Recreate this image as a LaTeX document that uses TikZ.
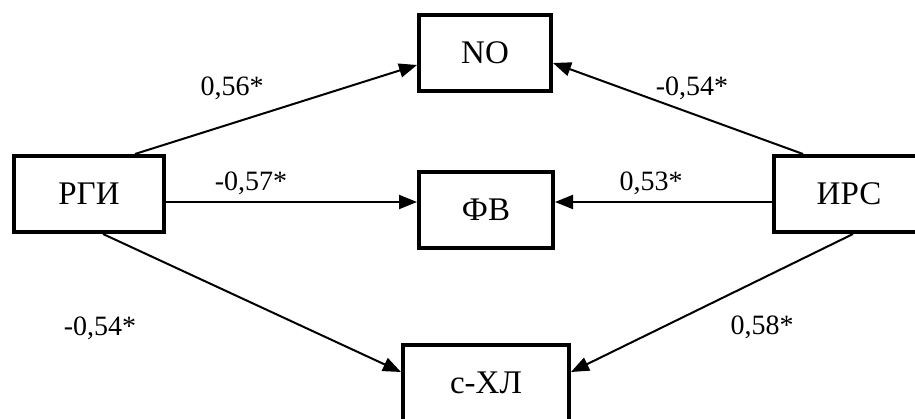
\documentclass[tikz,border=0pt]{standalone}
\usepackage{fontspec}
\setmainfont{Liberation Serif}
\usetikzlibrary{arrows.meta}
\begin{document}
\begin{tikzpicture}[x=1pt,y=1pt,
  box/.style={draw, line width=2pt, inner sep=0pt, minimum height=38pt, font=\fontsize{16.5}{19}\selectfont},
  arr/.style={line width=1pt, -{Triangle[length=9pt,width=7pt]}},
  lbl/.style={font=\fontsize{14}{17}\selectfont, inner sep=0pt}]
\fill[white] (0,0) rectangle (457.5,209);
\useasboundingbox (0,0) rectangle (457.5,209);
\node[box, minimum width=75pt] (rgi) at (44.5,112) {РГИ};
\node[box, minimum width=66pt] (no) at (242.5,182.5) {NO};
\node[box, minimum width=67pt] (fv) at (243,104) {ФВ};
\node[box, minimum width=100pt] (irs) at (437,112) {ИРС\hspace*{25pt}};
\node[box, minimum width=83pt] (chl) at (243,17.5) {с-ХЛ};
\draw[arr] ([xshift=23pt]rgi.north) -- ([yshift=-6pt]no.west);
\draw[arr] ([yshift=-4pt]rgi.east) -- ([yshift=4pt]fv.west);
\draw[arr] ([xshift=7pt]rgi.south) -- ([yshift=5.5pt]chl.west);
\draw[arr] ([xshift=-35.5pt]irs.north) -- ([yshift=-5pt]no.east);
\draw[arr] ([yshift=-4pt]irs.west) -- ([yshift=4pt]fv.east);
\draw[arr] ([xshift=-10.5pt]irs.south) -- ([yshift=5.5pt]chl.east);
\node[lbl] (l1) at (116,165) {0,56*};
\node[lbl] (l2) at (125.5,117.5) {-0,57*};
\node[lbl] (l3) at (325.5,117.5) {0,53*};
\node[lbl] (l4) at (346,165) {-0,54*};
\node[lbl] (l5) at (50,45) {-0,54*};
\node[lbl] (l6) at (381,45.5) {0,58*};
\end{tikzpicture}
\end{document}
